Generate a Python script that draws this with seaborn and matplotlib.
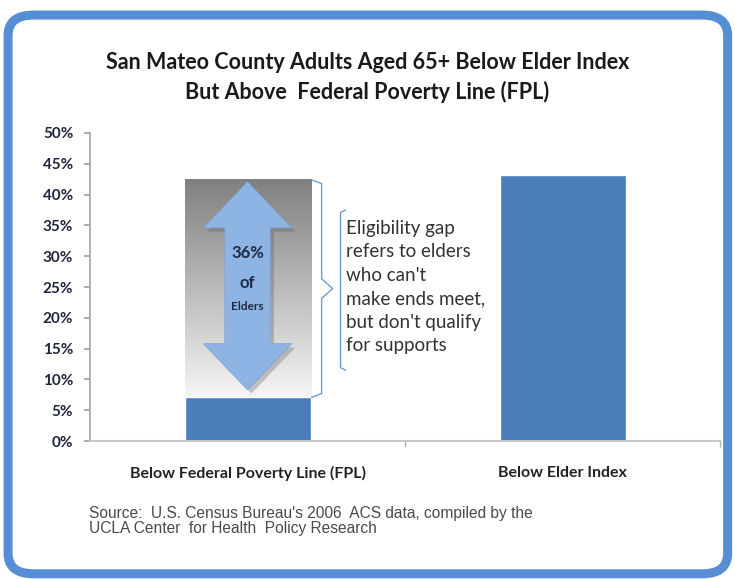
import matplotlib
matplotlib.use("Agg")
import numpy as np
import matplotlib.pyplot as plt
import seaborn as sns
from matplotlib.patches import FancyBboxPatch, Polygon

# data (percent of adults 65+)
categories = ["Below Federal Poverty Line (FPL)", "Below Elder Index"]
values = [7.1, 43.2]
gap_top = 42.4          # top of the grey "eligibility gap" box
gap_label = ["36%", "of", "Elders"]
y_ticks = [0, 5, 10, 15, 20, 25, 30, 35, 40, 45, 50]
note_text = "Eligibility gap\nrefers to elders\nwho can't\nmake ends meet,\nbut don't qualify\nfor supports"
title = "San Mateo County Adults Aged 65+ Below Elder Index\nBut Above  Federal Poverty Line (FPL)"
source = ("Source:  U.S. Census Bureau's 2006  ACS data, compiled by the\n"
          "UCLA Center  for Health  Policy Research")

sns.set_theme(style="white")
plt.rcParams['font.family'] = ['Lato', 'DejaVu Sans']

BLUE = "#4a7ebb"

fig = plt.figure(figsize=(7.35, 5.79), dpi=100)
ax = fig.add_axes([0.1224, 0.2383, 0.8576, 0.532])

sns.barplot(x=categories, y=values, color=BLUE, width=0.4, saturation=1, ax=ax, zorder=2)

# grey gradient box for the gap above the FPL bar
grad = np.linspace(0.96, 0.5, 256).reshape(-1, 1)
ax.imshow(grad, extent=[-0.2, 0.2, values[0], gap_top], aspect="auto",
          cmap="gray", vmin=0, vmax=1, origin="lower", zorder=1)

# double arrow inside the gap
sw, hw, hl = 0.072, 0.14, 7.5
tip_t, tip_b = gap_top - 0.3, values[0] + 1.2
arrow_pts = [(0, tip_t), (hw, tip_t - hl), (sw, tip_t - hl), (sw, tip_b + hl), (hw, tip_b + hl),
             (0, tip_b), (-hw, tip_b + hl), (-sw, tip_b + hl), (-sw, tip_t - hl), (-hw, tip_t - hl)]
shadow = Polygon([(x + 0.012, y - 0.6) for x, y in arrow_pts], closed=True,
                 facecolor="#555555", alpha=0.3, edgecolor="none", zorder=3)
ax.add_patch(shadow)
ax.add_patch(Polygon(arrow_pts, closed=True, facecolor="#8db4e2", edgecolor="#7aa3d6",
                     lw=0.5, zorder=4))
ax.text(0, 30.5, gap_label[0], ha="center", va="center", fontsize=12, fontweight="bold",
        color="#1f2a44", zorder=5)
ax.text(0, 25.6, gap_label[1], ha="center", va="center", fontsize=12, fontweight="bold",
        color="#1f2a44", zorder=5)
ax.text(0, 21.9, gap_label[2], ha="center", va="center", fontsize=8.5, fontweight="bold",
        color="#1f2a44", zorder=5)

# right brace next to the gap box
mid = (values[0] + gap_top) / 2
bx = [0.203, 0.235, 0.235, 0.27, 0.235, 0.235, 0.203]
by = [gap_top, gap_top - 0.6, mid + 1.6, mid, mid - 1.6, values[0] + 0.6, values[0]]
ax.plot(bx, by, color="#6f9bd1", lw=1, zorder=3)

# left bracket of the note
ax.plot([0.311, 0.295, 0.295, 0.311], [37.5, 37.1, 11.9, 11.5], color="#6f9bd1", lw=1, zorder=3)
ax.text(0.311, 35.9, note_text, ha="left", va="top", fontsize=13.5, color="#333333",
        linespacing=1.46, zorder=5)

ax.set_xlim(-0.5, 1.5)
ax.set_ylim(0, 50)
ax.set_yticks(y_ticks)
ax.set_yticklabels([f"{t}%" for t in y_ticks], fontsize=11, fontweight="bold", color="#20243a")
ax.set_xticks([0, 1])
ax.set_xticklabels(categories, fontsize=11.5, fontweight="bold", color="#222222")
ax.set_xticks([0.5, 1.5], minor=True)
ax.tick_params(axis="x", which="major", length=0, pad=18)
ax.tick_params(axis="x", which="minor", length=4, color="#b0b0b0", direction="out", bottom=True)
ax.tick_params(axis="y", length=4, color="#a0a0a0", direction="out", left=True, pad=8)
ax.set_xlabel("")
ax.set_ylabel("")
for s in ["top", "right"]:
    ax.spines[s].set_visible(False)
ax.spines["left"].set_color("#a8a8a8")
ax.spines["bottom"].set_color("#c8c8c8")
ax.spines["bottom"].set_linewidth(1.5)

fig.text(0.5, 0.866, title, ha="center", va="center", fontsize=15.5, fontweight="bold",
         color="#1a1a1a", linespacing=1.4)
fig.text(0.121, 0.1, source, ha="left", va="center", fontsize=11.2, color="#4a4a4a",
         family=["Liberation Sans", "DejaVu Sans"], linespacing=1.05)

# rounded blue frame around the whole chart
frame = FancyBboxPatch((0.011, 0.009), 0.979, 0.965, boxstyle="round,pad=0,rounding_size=0.035",
                       transform=fig.transFigure, facecolor="none", edgecolor="#558ed5",
                       lw=6.5, zorder=10)
fig.patches.append(frame)

fig.savefig("out.png", dpi=100)
